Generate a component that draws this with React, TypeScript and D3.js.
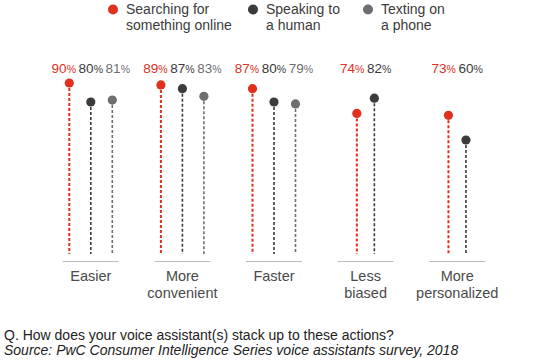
import * as d3 from "d3";

const categories = ["Easier", "More convenient", "Faster", "Less biased", "More personalized"];
const categoryLines = [["Easier"], ["More", "convenient"], ["Faster"], ["Less", "biased"], ["More", "personalized"]];
const seriesNames = ["Searching for something online", "Speaking to a human", "Texting on a phone"];
const legendLines = [["Searching for", "something online"], ["Speaking to", "a human"], ["Texting on", "a phone"]];
const searching = [90, 89, 87, 74, 73];
const speaking = [80, 87, 80, 82, 60];
const texting: (number | null)[] = [81, 83, 79, null, null];
const colors = ["#e0301e", "#3b3b3b", "#6d6e71"];

const W = 556;
const H = 362;
const font = "'Liberation Sans', Arial, sans-serif";
const legendX = [113, 253, 368];

const App = () => {
  const x = d3.scaleBand<string>().domain(categories).range([45, 503]);
  const y = d3.scaleLinear().domain([0, 100]).range([254, 64]);
  const values = [searching, speaking, texting];

  const groups = categories.map((c, gi) => {
    const cx = (x(c) || 0) + x.bandwidth() / 2;
    const present = seriesNames.filter((_, si) => values[si][gi] != null);
    const n = present.length;
    const dotSpacing = n === 3 ? 21.5 : 17.5;
    const dotX = d3.scalePoint<string>().domain(present).range([-(n - 1) * dotSpacing / 2, (n - 1) * dotSpacing / 2]);
    const labX = d3.scalePoint<string>().domain(present).range([-(n - 1) * 13.5, (n - 1) * 13.5]);

    return (
      <g key={c} transform={`translate(${cx},0)`}>
        <line x1={-28} x2={28} y1={261.5} y2={261.5} stroke="#bdbdbd" strokeWidth={1} />
        {present.map((s) => {
          const si = seriesNames.indexOf(s);
          const v = values[si][gi] as number;
          const px = dotX(s) || 0;
          return (
            <g key={s}>
              <line x1={px} x2={px} y1={y(v)} y2={y(0)} stroke={colors[si]}
                strokeWidth={si === 0 ? 2 : 1.6} strokeDasharray="3,2" />
              <circle cx={px} cy={y(v)} r={4.6} fill={colors[si]} />
              <text x={labX(s) || 0} y={72.5} textAnchor="middle" fill={colors[si]} fontSize={13.5}>
                {v}<tspan fontSize={10.5}>%</tspan>
              </text>
            </g>
          );
        })}
        {categoryLines[gi].map((t, li) => (
          <text key={t} x={0} y={281 + li * 17} textAnchor="middle" fontSize={14.5} fill="#4a4a4a">{t}</text>
        ))}
      </g>
    );
  });

  return (
    <svg width={W} height={H} style={{ position: "absolute", left: 0, top: 0 }} fontFamily={font}>
      <rect width={W} height={H} fill="#fff" />
      {seriesNames.map((s, si) => (
        <g key={s}>
          <circle cx={legendX[si]} cy={9.5} r={5} fill={colors[si]} />
          {legendLines[si].map((t, li) => (
            <text key={t} x={legendX[si] + 13} y={13.5 + li * 16} fontSize={14} fill="#3b3b3b">{t}</text>
          ))}
        </g>
      ))}
      {groups}
      <text x={4} y={340} fontSize={14} fill="#222">Q. How does your voice assistant(s) stack up to these actions?</text>
      <text x={4} y={354.5} fontSize={14} fill="#222" fontStyle="italic">
        Source: PwC Consumer Intelligence Series voice assistants survey, 2018
      </text>
    </svg>
  );
};

export default App;
